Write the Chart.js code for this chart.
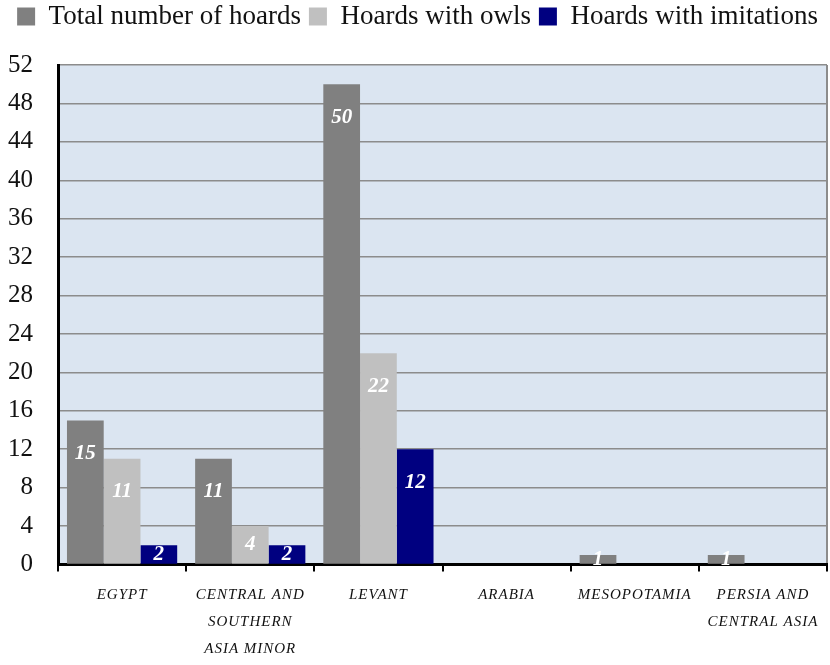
<!DOCTYPE html>
<html><head><meta charset="utf-8">
<script src="https://cdn.jsdelivr.net/npm/chart.js@4/dist/chart.umd.min.js"></script>
<style>html,body{margin:0;padding:0;background:#fff}#wrap{width:830px;height:665px}</style>
</head><body><div id="wrap"><canvas id="c"></canvas></div>
<script>
const categories = [["EGYPT"],["CENTRAL AND","SOUTHERN","ASIA MINOR"],["LEVANT"],["ARABIA"],["MESOPOTAMIA"],["PERSIA AND","CENTRAL ASIA"]];
const seriesNames = ["Total number of hoards","Hoards with owls","Hoards with imitations"];
const totalHoards = [15, 11, 50, 0, 1, 1];
const owlHoards = [11, 4, 22, 0, 0, 0];
const imitationHoards = [2, 2, 12, 0, 0, 0];
const yTicks = [0,4,8,12,16,20,24,28,32,36,40,44,48,52];
const colors = ["#808080","#c0c0c0","#000080"];
const SERIF = "'Liberation Serif', 'Times New Roman', serif";

const legendGap = {
  id:'legendGap',
  beforeInit(chart){
    const lg = chart.legend;
    const orig = lg.fit;
    lg.fit = function(){
      const mw = this.maxWidth;
      this.maxWidth = 2000;
      orig.call(this);
      this.maxWidth = mw;
      this.width = mw;
      this.height += 25;
    };
  }
};

const bgPlugin = {
  id:'bg',
  beforeDraw(chart){
    const {ctx, chartArea:a} = chart;
    ctx.save();
    ctx.fillStyle = '#dbe5f1';
    ctx.fillRect(a.left, a.top, a.right-a.left, a.bottom-a.top);
    ctx.strokeStyle = '#8c8c8c';
    ctx.lineWidth = 2;
    ctx.beginPath();
    ctx.moveTo(a.right, a.top); ctx.lineTo(a.right, a.bottom);
    ctx.stroke();
    ctx.restore();
    const s = chart.scales.x;
    if (!s._lsWrapped) {
      const orig = s.drawLabels.bind(s);
      s.drawLabels = function(area){
        const c = this.ctx; const prev = c.letterSpacing;
        c.letterSpacing = '1px'; orig(area); c.letterSpacing = prev || '0px';
      };
      s._lsWrapped = true;
    }
  }
};

const labelPlugin = {
  id:'vals',
  afterDatasetsDraw(chart){
    const ctx = chart.ctx;
    ctx.save();
    ctx.fillStyle = '#ffffff';
    ctx.font = "italic bold 21px " + SERIF;
    ctx.textAlign = 'center';
    ctx.textBaseline = 'middle';
    chart.data.datasets.forEach((ds, di) => {
      const meta = chart.getDatasetMeta(di);
      meta.data.forEach((bar, i) => {
        const v = ds.data[i];
        if (!v) return;
        const top = bar.y, bottom = bar.base;
        const y = Math.min(top + 33, (top + bottom) / 2);
        ctx.fillText(String(v), bar.x, y);
      });
    });
    ctx.restore();
  }
};

new Chart(document.getElementById('c'), {
  type: 'bar',
  data: {
    labels: categories,
    datasets: [
      {label: seriesNames[0], data: totalHoards, backgroundColor: colors[0]},
      {label: seriesNames[1], data: owlHoards, backgroundColor: colors[1]},
      {label: seriesNames[2], data: imitationHoards, backgroundColor: colors[2]}
    ]
  },
  options: {
    responsive: true,
    maintainAspectRatio: false,
    animation: false,
    layout: {padding: {left: 8, right: 3, top: -5, bottom: 2}},
    datasets: {bar: {categoryPercentage: 0.86, barPercentage: 1.0, borderWidth: 0}},
    plugins: {
      legend: {
        position: 'top',
        labels: {
          boxWidth: 18, boxHeight: 18, padding: 8,
          color: '#111',
          font: {family: SERIF, size: 27}
        }
      },
      tooltip: {enabled: false}
    },
    scales: {
      y: {
        min: 0, max: 52,
        afterBuildTicks(scale){ scale.ticks = yTicks.map(v => ({value: v})); },
        afterFit(s){ s.width -= 25; },
        ticks: {color: '#111', padding: 25, font: {family: SERIF, size: 25}},
        grid: {color: '#8c8c8c', lineWidth: 1.5, drawTicks: false},
        border: {color: '#000', width: 3}
      },
      x: {
        offset: true,
        afterFit(s){ s.paddingLeft = 0; s.paddingRight = 0; s.height -= 10.5; },
        grid: {offset: true, drawOnChartArea: false, drawTicks: true, tickLength: 7, color: '#000', lineWidth: 2},
        border: {color: '#000', width: 3},
        ticks: {color: '#111', padding: 10.5, maxRotation: 0, autoSkip: false,
          font: {family: SERIF, size: 15, style: 'italic', lineHeight: 1.8}}
      }
    }
  },
  plugins: [legendGap, bgPlugin, labelPlugin]
});
</script>
</body></html>
